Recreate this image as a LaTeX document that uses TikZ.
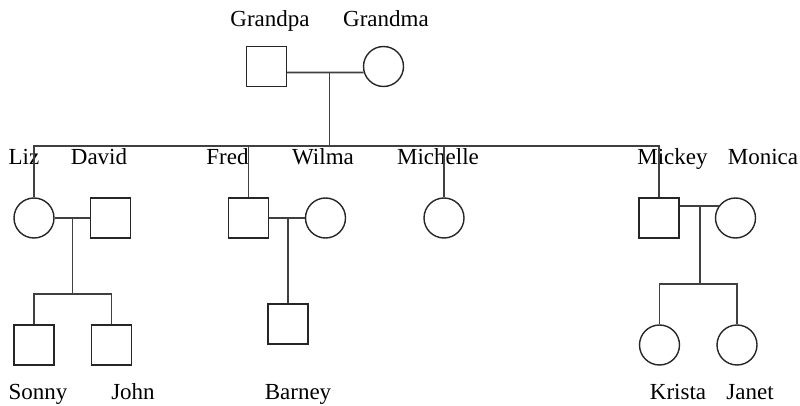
\documentclass[tikz,border=0pt]{standalone}
\usepackage{fontspec}
\setmainfont{Liberation Serif}
\usetikzlibrary{positioning}
\tikzstyle{male} = [rectangle, minimum size=40pt, inner sep=0pt, draw=black!85, line width=1.4pt]
\tikzstyle{female} = [circle, minimum size=40pt, inner sep=0pt, draw=black!85, line width=1.4pt]
\tikzstyle{person} = [anchor=base, inner sep=0pt, font=\fontsize{23}{27}\selectfont]
\tikzstyle{bond} = [draw=black!75, line width=1.6pt]

\begin{document}
\begin{tikzpicture}[x=1pt, y=-1pt]
      \useasboundingbox (0,0) rectangle (800,406);

      % grandparents
      \node (grandpa) [male] at (266.5,66.5) {};
      \node (grandma) [female] at (383.5,66.5) {};
      \node (grandpalbl) [person] at (270,27) {Grandpa};
      \node (grandmalbl) [person] at (386,27) {Grandma};

      % their children and partners
      \node (liz) [female] at (34,218) {};
      \node (david) [male] at (110.5,218) {};
      \node (fred) [male] at (248.5,218) {};
      \node (wilma) [female] at (325.5,218) {};
      \node (michelle) [female] at (444,218) {};
      \node (mickey) [male] at (659,218) {};
      \node (monica) [female] at (735.5,218) {};
      \node (lizlbl) [person] at (24,165) {Liz};
      \node (davidlbl) [person] at (99,165) {David};
      \node (fredlbl) [person] at (227.5,165) {Fred};
      \node (wilmalbl) [person] at (323,165) {Wilma};
      \node (michellelbl) [person] at (438,165) {Michelle};
      \node (mickeylbl) [person] at (672.5,165) {Mickey};
      \node (monicalbl) [person] at (763,165) {Monica};

      % grandchildren
      \node (sonny) [male] at (34,345) {};
      \node (john) [male] at (111.5,345) {};
      \node (barney) [male] at (288,324) {};
      \node (krista) [female] at (659.5,345) {};
      \node (janet) [female] at (737,345) {};
      \node (sonnylbl) [person] at (38,399) {Sonny};
      \node (johnlbl) [person] at (133,399) {John};
      \node (barneylbl) [person] at (298,399) {Barney};
      \node (kristalbl) [person] at (678,399) {Krista};
      \node (janetlbl) [person] at (750,399) {Janet};

      \coordinate (gcouple) at (329.5,72.5);
      \coordinate (gsib) at (329.5,146);
      \coordinate (ldcouple) at (72.5,218);
      \coordinate (ldsib) at (72.5,294);
      \coordinate (fwcouple) at (barney.north |- fred);
      \coordinate (mmcouple) at (700,206.5);
      \coordinate (mmsib) at (700,284);

      \draw [bond] (grandpa.east |- gcouple) -- (grandma.197);
      \draw [bond] (gcouple) -- (gsib);
      \draw [bond] (liz.north) |- (gsib) -| (mickey.north);
      \draw [bond] (fred.north) -- (fred.north |- gsib);
      \draw [bond] (michelle.north) -- (michelle.north |- gsib);

      \draw [bond] (liz) -- (david);
      \draw [bond] (ldcouple) -- (ldsib);
      \draw [bond] (sonny.north) |- (ldsib) -| (john.north);

      \draw [bond] (fred) -- (wilma);
      \draw [bond] (fwcouple) -- (barney);

      \draw [bond] (mickey.east |- monica.145) -- (monica.145);
      \draw [bond] (mmcouple) -- (mmsib);
      \draw [bond] (krista.north) |- (mmsib) -| (janet.north);
\end{tikzpicture}
\end{document}
